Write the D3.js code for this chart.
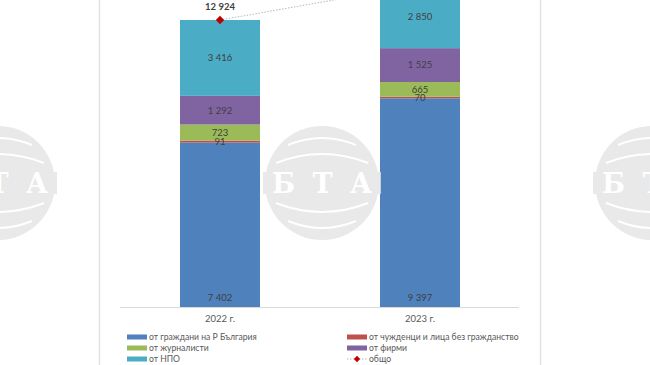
<!DOCTYPE html>
<html>
<head>
<meta charset="utf-8">
<script src="https://cdn.jsdelivr.net/npm/d3@7"></script>
<style>
  body { margin: 0; background: #fff; }
  svg { display: block; }
</style>
</head>
<body>
<div id="chart"></div>
<script>
const years = ["2022 г.", "2023 г."];
const seriesNames = [
  "от граждани на Р България",
  "от чужденци и лица без гражданство",
  "от журналисти",
  "от фирми",
  "от НПО"
];
const citizens = [7402, 9397];
const foreigners = [91, 70];
const journalists = [723, 665];
const companies = [1292, 1525];
const ngos = [3416, 2850];
const colors = ["#4f81bd", "#c0504d", "#9bbb59", "#8064a2", "#4bacc6"];

const fmt = (v) => d3.format(",")(v).replace(/,/g, "\u00a0");

let width = 650, height = 365;
let svg = d3.select("#chart").append("svg")
  .attr("width", width)
  .attr("height", height)
  .attr("font-family", "Lato, 'Open Sans', sans-serif");

// chart frame lines
svg.append("line").attr("x1", 99.5).attr("x2", 99.5).attr("y1", 0).attr("y2", height)
  .attr("stroke", "#e4e4e4").attr("stroke-width", 1.5);
svg.append("line").attr("x1", 540.5).attr("x2", 540.5).attr("y1", 0).attr("y2", height)
  .attr("stroke", "#e4e4e4").attr("stroke-width", 1.5);

let rows = years.map((y, i) => ({
  year: y,
  values: [citizens[i], foreigners[i], journalists[i], companies[i], ngos[i]]
}));
rows.forEach((r) => {
  r.values.forEach((v, k) => (r["s" + k] = v));
  r.total = d3.sum(r.values);
});

let keys = seriesNames.map((d, k) => "s" + k);
let stacked = d3.stack().keys(keys)(rows);

let x = d3.scaleBand().domain(years).range([120, 520]).paddingInner(0.6).paddingOuter(0.3);
let y = d3.scaleLinear().domain([0, 12924]).range([307, 20]);

// watermark logos
function logo(cx, cy) {
  let g = svg.append("g").attr("opacity", 0.8);
  g.append("circle").attr("cx", cx).attr("cy", cy).attr("r", 57).attr("fill", "#e4e4e4");
  [-1, 1].forEach((s) => {
    g.append("path")
      .attr("d", `M${cx - 46},${cy + s * 20} Q${cx},${cy + s * 38} ${cx + 46},${cy + s * 20}`)
      .attr("fill", "none").attr("stroke", "#fff").attr("stroke-width", 2);
    g.append("path")
      .attr("d", `M${cx - 34},${cy + s * 38} Q${cx},${cy + s * 52} ${cx + 34},${cy + s * 38}`)
      .attr("fill", "none").attr("stroke", "#fff").attr("stroke-width", 2);
  });
  g.append("rect").attr("x", cx - 59).attr("y", cy - 11).attr("width", 118).attr("height", 22).attr("fill", "#e4e4e4");
  g.append("text").attr("x", cx).attr("y", cy + 10).attr("text-anchor", "middle")
    .attr("font-family", "'DejaVu Serif', serif").attr("font-weight", 700)
    .attr("font-size", 27).attr("fill", "#fff").attr("textLength", 100)
    .attr("lengthAdjust", "spacing")
    .text("БТА");
}

// bars
let layers = svg.append("g").selectAll("g")
  .data(stacked)
  .join("g")
  .attr("fill", (d, k) => colors[k]);

layers.selectAll("rect")
  .data((d) => d)
  .join("rect")
  .attr("x", (d) => x(d.data.year))
  .attr("width", x.bandwidth())
  .attr("y", (d) => y(d[1]))
  .attr("height", (d) => y(d[0]) - y(d[1]));

logo(322, 183);
logo(-2, 183);
logo(652, 183);

// value labels
let labels = svg.append("g")
  .attr("font-size", 9.5)
  .attr("fill", "#404040")
  .attr("text-anchor", "middle");

stacked.forEach((layer, k) => {
  layer.forEach((d) => {
    let ly = k === 0 ? y(0) - 9 : (y(d[0]) + y(d[1])) / 2;
    labels.append("text")
      .attr("x", x(d.data.year) + x.bandwidth() / 2)
      .attr("y", ly)
      .attr("dy", "0.35em")
      .text(fmt(d.data["s" + k]));
  });
});

// axis
svg.append("line").attr("x1", 120).attr("x2", 519).attr("y1", 307.5).attr("y2", 307.5)
  .attr("stroke", "#d9d9d9");
svg.append("g").attr("font-size", 9.5).attr("fill", "#595959").attr("text-anchor", "middle")
  .selectAll("text").data(years).join("text")
  .attr("x", (d) => x(d) + x.bandwidth() / 2)
  .attr("y", 319).attr("dy", "0.35em")
  .text((d) => d);

// total line
let line = d3.line().x((d) => x(d.year) + x.bandwidth() / 2).y((d) => y(d.total));
svg.append("path").datum(rows).attr("d", line)
  .attr("fill", "none").attr("stroke", "#a6a6a6").attr("stroke-width", 0.8)
  .attr("stroke-dasharray", "1.5,1.5");
let diamond = d3.symbol().type(d3.symbolDiamond2).size(45);
svg.append("g").selectAll("path").data(rows).join("path")
  .attr("d", diamond)
  .attr("transform", (d) => `translate(${x(d.year) + x.bandwidth() / 2},${y(d.total)})`)
  .attr("fill", "#c00000");
// only totals that fall inside the picture get a label
svg.append("g").selectAll("text").data(rows.filter((d) => y(d.total) - 13 > 4)).join("text")
  .attr("x", (d) => x(d.year) + x.bandwidth() / 2)
  .attr("y", (d) => y(d.total) - 13)
  .attr("dy", "0.35em")
  .attr("text-anchor", "middle")
  .attr("font-size", 9.5).attr("font-weight", 700).attr("fill", "#404040")
  .text((d) => fmt(d.total));

// legend
let legendPos = [[127, 337], [347, 337], [127, 348], [347, 348], [127, 359]];
let legend = svg.append("g").attr("font-size", 8.6).attr("fill", "#595959");
seriesNames.forEach((name, k) => {
  let [lx, ly] = legendPos[k];
  legend.append("rect").attr("x", lx).attr("y", ly - 2.5).attr("width", 20).attr("height", 5).attr("fill", colors[k]);
  legend.append("text").attr("x", lx + 22).attr("y", ly).attr("dy", "0.35em").text(name);
});
legend.append("line").attr("x1", 347).attr("x2", 367).attr("y1", 359).attr("y2", 359)
  .attr("stroke", "#a6a6a6").attr("stroke-width", 0.8).attr("stroke-dasharray", "1.5,1.5");
legend.append("path").attr("d", d3.symbol().type(d3.symbolDiamond2).size(25))
  .attr("transform", "translate(357,359)").attr("fill", "#c00000");
legend.append("text").attr("x", 369).attr("y", 359).attr("dy", "0.35em").text("общо");
</script>
</body>
</html>
